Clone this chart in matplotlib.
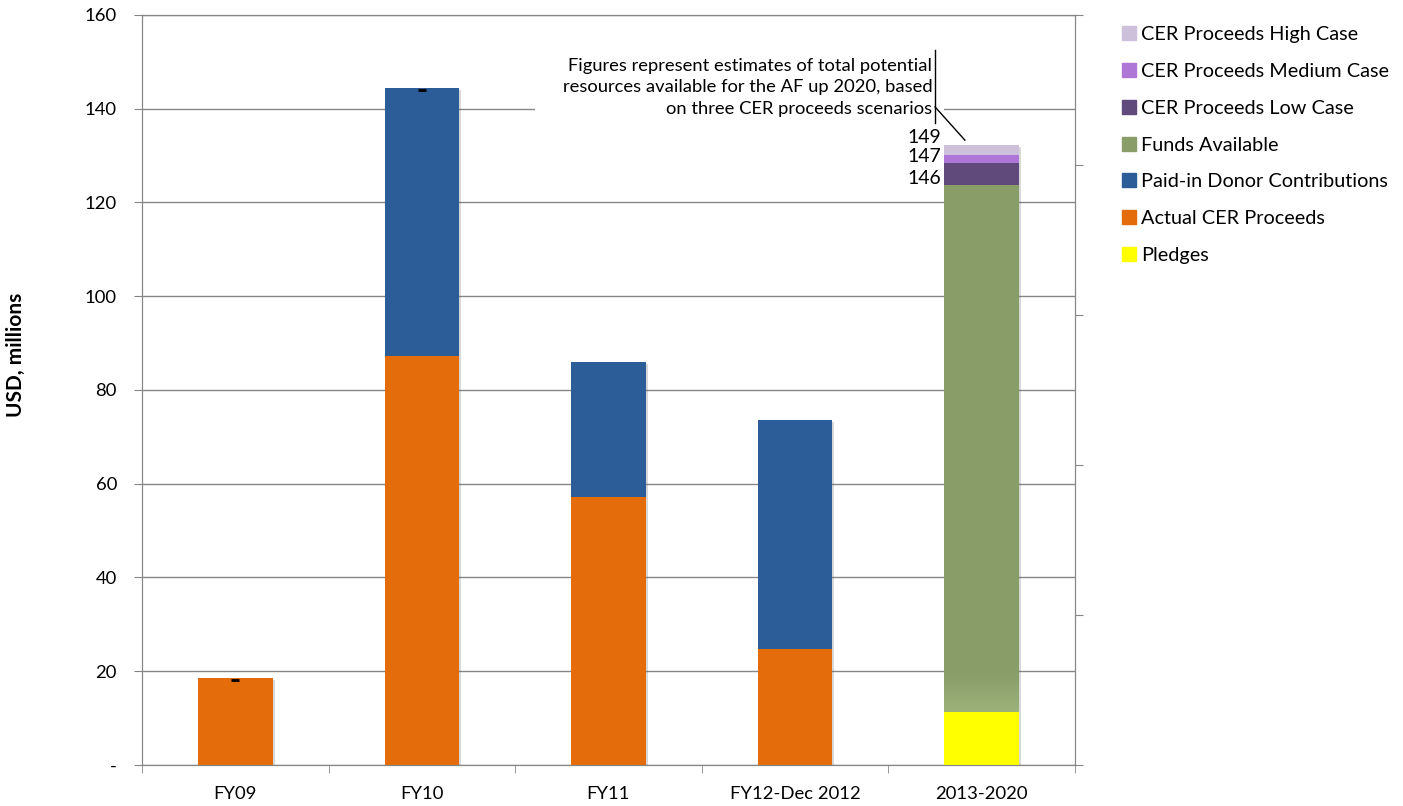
import numpy as np
import matplotlib.pyplot as plt
from matplotlib import patheffects
from matplotlib.lines import Line2D
from matplotlib.patches import Rectangle
from matplotlib.colors import LinearSegmentedColormap

plt.rcParams["font.family"] = ["Lato", "DejaVu Sans"]

# Data (USD, millions)
categories = ["FY09", "FY10", "FY11", "FY12-Dec 2012", "2013-2020"]
cer_proceeds = [18.5, 87.2, 57.1, 24.7, 0]
donor_contrib = [0, 57.3, 28.9, 48.9, 0]
pledges = [0, 0, 0, 0, 11.3]
funds_available = [0, 0, 0, 0, 112.4]
low_case = [0, 0, 0, 0, 4.7]
medium_case = [0, 0, 0, 0, 1.7]
high_case = [0, 0, 0, 0, 2.2]
scenario_totals = ["146", "147", "149"]
note = ("Figures represent estimates of total potential\n"
        "resources available for the AF up 2020, based\n"
        "on three CER proceeds scenarios")

# series in stacking order (bottom to top)
series = [
    ("Actual CER Proceeds", cer_proceeds, "#E46C0A"),
    ("Paid-in Donor Contributions", donor_contrib, "#2C5D98"),
    ("Pledges", pledges, "#FFFF00"),
    ("Funds Available", funds_available, "#889D68"),
    ("CER Proceeds Low Case", low_case, "#5F4A7B"),
    ("CER Proceeds Medium Case", medium_case, "#AE76D6"),
    ("CER Proceeds High Case", high_case, "#CCC0DA"),
]
legend_order = ["CER Proceeds High Case", "CER Proceeds Medium Case",
                "CER Proceeds Low Case", "Funds Available",
                "Paid-in Donor Contributions", "Actual CER Proceeds", "Pledges"]

grid_col = "#868686"
x = np.arange(len(categories))
width = 0.40

fig = plt.figure(figsize=(14.03, 8.06), dpi=100)
ax = fig.add_axes([0.1012, 0.0509, 0.665, 0.9305])

# soft drop shadow behind each full stack
totals = np.sum([s[1] for s in series], axis=0)
ax.bar(x, totals, width, color="none", zorder=2,
       path_effects=[patheffects.SimplePatchShadow(offset=(1.5, -1.5),
                                                    shadow_rgbFace="0.4", alpha=0.25)])

bottom = np.zeros(len(categories))
tops = {}
for name, vals, col in series:
    vals = np.array(vals, dtype=float)
    mask = vals > 0
    ax.bar(x[mask], vals[mask], width, bottom=bottom[mask], color=col,
           zorder=3, linewidth=0)
    bottom = bottom + vals
    tops[name] = bottom.copy()

# lighter fade at the foot of the funds-available segment
i = 4
fade = LinearSegmentedColormap.from_list("fade", ["#9DB27B", "#889D68"])
y0 = pledges[i]
ax.imshow(np.linspace(0, 1, 50).reshape(-1, 1), cmap=fade, origin="lower",
          extent=[x[i] - width / 2, x[i] + width / 2, y0, y0 + 8],
          aspect="auto", zorder=3.5, interpolation="bilinear")

# small black marks at the top of the first two bars
ax.plot(x[:2], totals[:2] - 0.4, linestyle="none", marker="_", ms=6, mew=2,
        color="black", zorder=4)

# scenario totals next to the 2013-2020 stack
for lbl, name in zip(scenario_totals,
                     ["Funds Available", "CER Proceeds Low Case",
                      "CER Proceeds High Case"]):
    ax.text(x[i] - width / 2 - 0.015, tops[name][i] + 1.5, lbl, ha="right",
            va="center", fontsize=14, zorder=5)

# note box with leader line
ax.add_patch(Rectangle((1.606, 137.2), 3.80 - 1.606, 17.5, facecolor="white",
                       edgecolor="none", zorder=1.5))
ax.text(3.735, 144.6, note, ha="right", va="center", fontsize=13.2,
        linespacing=1.42, zorder=5)
ax.plot([3.75, 3.75], [152.5, 137.0], color="black", lw=1, zorder=5)
ax.plot([3.75, 3.91], [140.4, 133.3], color="black", lw=1, zorder=5)

# axes styling
ax.set_xlim(-0.5, 4.5)
ax.set_ylim(0, 160)
yt = np.arange(0, 161, 20)
ax.set_yticks(yt)
ax.set_yticklabels(["-"] + [str(v) for v in yt[1:]], fontsize=13.3)
ax.yaxis.grid(True, color=grid_col, lw=1, zorder=1)
ax.set_axisbelow(True)
ax.tick_params(axis="y", length=6, color=grid_col, pad=12)
ax.set_xticks(x)
ax.set_xticklabels(categories, fontsize=13.3)
ax.set_xticks(np.arange(-0.5, 5, 1), minor=True)
ax.tick_params(axis="x", which="major", length=0, pad=15)
ax.tick_params(axis="x", which="minor", length=6, color=grid_col)
for sp in ax.spines.values():
    sp.set_color(grid_col)

ax2 = ax.twinx()
ax2.set_ylim(0, 1)
ax2.set_yticks(np.linspace(0, 1, 6))
ax2.set_yticklabels([])
ax2.tick_params(axis="y", length=6, color=grid_col)
for sp in ax2.spines.values():
    sp.set_color(grid_col)

fig.text(0.0114, 0.5596, "USD, millions", rotation=90, ha="center", va="center",
         fontsize=15, fontweight="bold")

colors = {name: col for name, _, col in series}
handles = [Line2D([], [], linestyle="none", marker="s", ms=9.5,
                  markerfacecolor=colors[n], markeredgecolor=colors[n])
           for n in legend_order]
fig.legend(handles, legend_order, loc="upper left",
           bbox_to_anchor=(0.786, 0.99), frameon=False, fontsize=14.3,
           handletextpad=0.25, labelspacing=1.0, handlelength=0.8)

fig.savefig("out.png", dpi=100)
